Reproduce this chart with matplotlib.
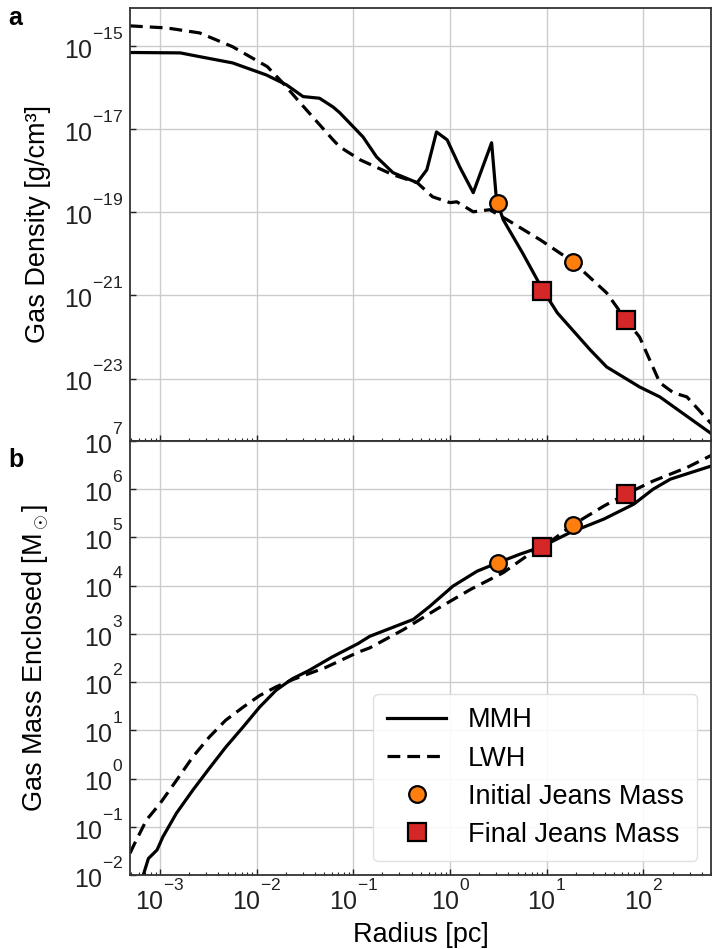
import numpy as np
import matplotlib
import matplotlib.pyplot as plt
from matplotlib.ticker import NullLocator

plt.rcParams['font.family'] = ['Liberation Sans', 'DejaVu Sans']
plt.rcParams['mathtext.fontset'] = 'custom'
plt.rcParams['mathtext.rm'] = 'Liberation Sans'
plt.rcParams['mathtext.it'] = 'Liberation Sans:italic'
plt.rcParams['mathtext.bf'] = 'Liberation Sans:bold'
# exponents sit higher in the original tick labels
try:
    matplotlib._mathtext.FontConstantsBase.sup1 = 1.35
except AttributeError:
    pass

# values, stored as log10
# panel a: gas density profile
mmh_rho_logr = [-3.31, -2.79, -2.59, -2.25, -1.90, -1.69, -1.52, -1.35, -1.21, -1.14,
                -0.90, -0.76, -0.59, -0.34, -0.24, -0.14, -0.03, 0.10, 0.24, 0.43,
                0.48, 0.55, 0.75, 0.96, 1.11, 1.45, 1.62, 1.96, 2.17, 2.70]
mmh_rho_log = [-15.16, -15.17, -15.26, -15.41, -15.70, -15.94, -16.22, -16.26, -16.47, -16.61,
               -17.19, -17.67, -18.05, -18.29, -17.98, -17.07, -17.26, -17.91, -18.53, -17.33,
               -18.70, -19.18, -19.98, -20.87, -21.42, -22.31, -22.72, -23.20, -23.44, -24.32]
lwh_rho_logr = [-3.31, -2.93, -2.59, -2.25, -1.89, -1.73, -1.55, -1.21, -1.14, -0.93,
                -0.59, -0.34, -0.18, 0.00, 0.07, 0.24, 0.41, 0.59, 0.93, 1.27,
                1.62, 1.82, 1.96, 2.17, 2.31, 2.45, 2.70]
lwh_rho_log = [-14.52, -14.57, -14.69, -15.02, -15.50, -15.89, -16.37, -17.26, -17.43, -17.74,
               -18.10, -18.29, -18.63, -18.77, -18.75, -18.99, -18.94, -19.18, -19.66, -20.19,
               -20.94, -21.59, -22.00, -23.10, -23.34, -23.44, -24.08]

# panel b: enclosed gas mass
mmh_m_logr = [-3.18, -3.12, -3.03, -2.97, -2.83, -2.66, -2.49, -2.32, -2.14, -1.97,
              -1.80, -1.63, -1.46, -1.22, -0.95, -0.83, -0.38, -0.21, 0.03, 0.28,
              0.50, 0.72, 0.95, 1.24, 1.59, 1.90, 2.10, 2.28, 2.70]
mmh_m_log = [-2.05, -1.66, -1.48, -1.21, -0.72, -0.24, 0.21, 0.65, 1.07, 1.48,
             1.83, 2.07, 2.24, 2.52, 2.80, 2.95, 3.30, 3.57, 3.99, 4.30,
             4.48, 4.65, 4.81, 5.10, 5.38, 5.69, 6.00, 6.21, 6.48]
lwh_m_logr = [-3.31, -3.27, -3.14, -3.00, -2.83, -2.66, -2.49, -2.32, -2.14, -1.97,
              -1.80, -1.63, -1.29, -0.95, -0.83, -0.48, -0.14, 0.21, 0.55, 0.79,
              0.95, 1.26, 1.59, 1.82, 2.10, 2.45, 2.70]
lwh_m_log = [-1.55, -1.38, -0.86, -0.52, -0.04, 0.45, 0.86, 1.21, 1.48, 1.72,
             1.90, 2.05, 2.30, 2.62, 2.71, 3.09, 3.51, 3.92, 4.27, 4.61,
             4.78, 5.25, 5.65, 5.90, 6.17, 6.45, 6.70]

# Jeans mass markers (MMH, LWH)
init_logr = [0.50, 1.27]
init_rho_log = [-18.77, -20.19]
init_m_log = [4.48, 5.25]
final_logr = [0.95, 1.82]
final_rho_log = [-20.89, -21.59]
final_m_log = [4.81, 5.90]

xtick_exp = [-3, -2, -1, 0, 1, 2]
rho_tick_exp = [-23, -21, -19, -17, -15]
m_tick_exp = [-2, -1, 0, 1, 2, 3, 4, 5, 6, 7]

def p(a):
    return 10.0 ** np.array(a, dtype=float)

fig = plt.figure(figsize=(7.12, 9.49), dpi=100)
ax1 = fig.add_axes([0.1826, 0.5353, 0.816, 0.4563])
ax2 = fig.add_axes([0.1826, 0.078, 0.816, 0.4573], sharex=ax1)

lw = 2.3
dash = (4, 2.2)
mk = dict(markeredgecolor='black', markeredgewidth=1.6, linestyle='none', zorder=5)

ax1.plot(p(mmh_rho_logr), p(mmh_rho_log), color='black', lw=lw)
ax1.plot(p(lwh_rho_logr), p(lwh_rho_log), color='black', lw=lw, ls='--', dashes=dash)
ax1.plot(p(init_logr), p(init_rho_log), marker='o', markersize=12, color='#ff7f0e', **mk)
ax1.plot(p(final_logr), p(final_rho_log), marker='s', markersize=13.5, color='#d62728', **mk)

ax2.plot(p(mmh_m_logr), p(mmh_m_log), color='black', lw=lw, label='MMH')
ax2.plot(p(lwh_m_logr), p(lwh_m_log), color='black', lw=lw, ls='--', dashes=dash, label='LWH')
ax2.plot(p(init_logr), p(init_m_log), marker='o', markersize=12, color='#ff7f0e',
         label='Initial Jeans Mass', **mk)
ax2.plot(p(final_logr), p(final_m_log), marker='s', markersize=13.5, color='#d62728',
         label='Final Jeans Mass', **mk)

for ax in (ax1, ax2):
    ax.set_xscale('log')
    ax.set_yscale('log')
    ax.grid(True, which='major', color='#cccccc', lw=1.0)
    ax.set_axisbelow(True)
    ax.tick_params(which='both', direction='in', labelsize=18, colors='#222222')
    ax.tick_params(which='major', length=4, width=1, pad=3)
    ax.tick_params(axis='y', which='major', pad=5)
    ax.tick_params(which='minor', length=2.5, width=0.8)
    for s in ax.spines.values():
        s.set_color('#333333')
        s.set_linewidth(1.3)

ax1.set_xlim(4.9e-4, 500)
ax1.set_xticks(p(xtick_exp))
ax1.set_ylim(10 ** -24.5, 10 ** -14.09)
ax1.set_yticks(p(rho_tick_exp))
ax1.tick_params(labelbottom=False)
ax2.set_ylim(1e-2, 1e7)
ax2.set_yticks(p(m_tick_exp))
for ax in (ax1, ax2):
    ax.yaxis.set_minor_locator(NullLocator())
    for t in ax.yaxis.get_major_ticks():
        t.label1.set_verticalalignment('center')

ax1.set_ylabel('Gas Density [g/cm\u00b3]', fontsize=19.5)
ax2.set_ylabel(r'Gas Mass Enclosed [M$_\odot$]', fontsize=19.5)
ax1.yaxis.set_label_coords(-0.136, 0.5)
ax2.yaxis.set_label_coords(-0.136, 0.5)
ax2.set_xlabel('Radius [pc]', fontsize=19.5, labelpad=5)

ax2.legend(loc='lower right', fontsize=19.5, frameon=True, fancybox=True,
           edgecolor='#dddddd', framealpha=0.9, handlelength=2.2, borderpad=0.5,
           labelspacing=0.45)

fig.text(0.012, 0.981, 'a', fontsize=18, fontweight='bold', va='center')
fig.text(0.012, 0.515, 'b', fontsize=18, fontweight='bold', va='center')

fig.savefig('out.png', dpi=100)
